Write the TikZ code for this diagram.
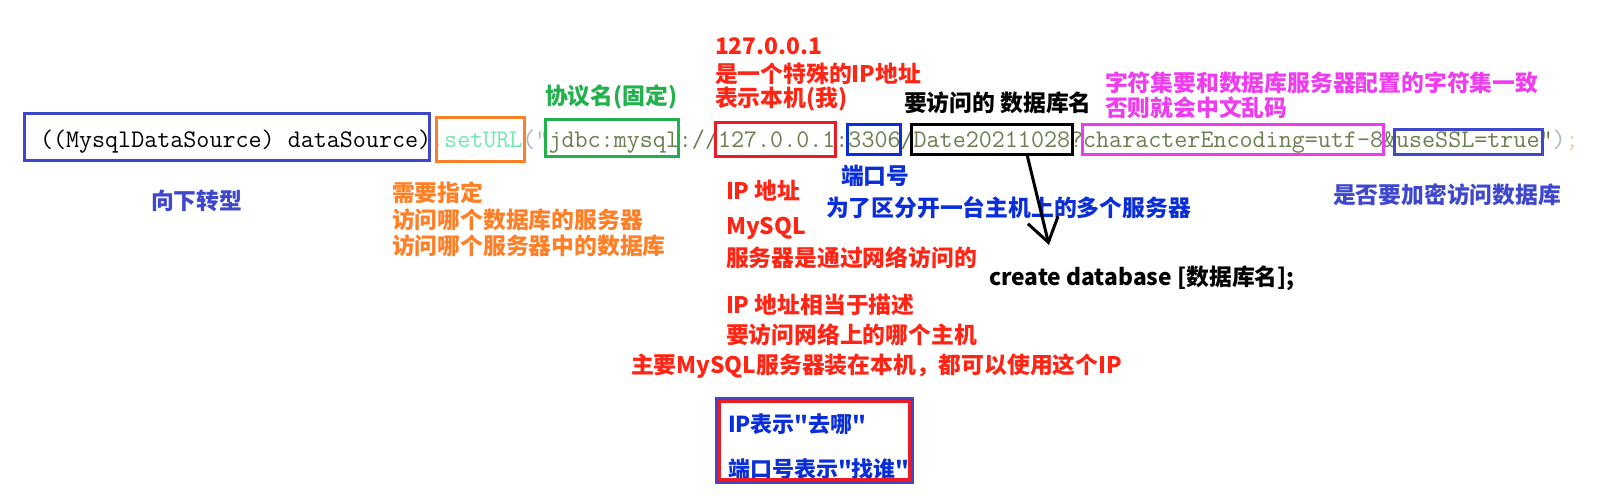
\documentclass[tikz,border=0pt]{standalone}
\usepackage{fontspec}
\usepackage{tikz}
\usetikzlibrary{
  arrows.meta,
  calc,
  fit,
  positioning
}
\newfontfamily\cjkfont{Noto Sans CJK SC}
\newfontfamily\codefont{Latin Modern Mono}
\newcommand\notefont{\cjkfont\bfseries}
\definecolor{codegray}{HTML}{A9B7C6}
\definecolor{codemint}{HTML}{73E6B0}
\definecolor{codeolive}{HTML}{6A7F4E}
\definecolor{codesemi}{HTML}{E6D3A3}
\definecolor{indigo}{HTML}{3F48CC}
\definecolor{paintorange}{HTML}{FF7F27}
\definecolor{paintgreen}{HTML}{22B14C}
\definecolor{textred}{HTML}{FF2515}
\definecolor{framered}{HTML}{ED1C24}
\definecolor{paintblue}{HTML}{0A2ED8}
\definecolor{paintpink}{HTML}{F03CF0}
\tikzset{
  code/.style={
    font=\codefont\fontsize{12.66}{14}\selectfont,
    inner sep=0pt,
    outer sep=0pt
  },
  frame/.style={draw=#1, line width=1.5pt},
  note/.style={
    anchor=north west,
    inner sep=0pt,
    outer sep=0pt,
    align=left,
    font=\notefont\fontsize{11.4}{#1}\selectfont
  },
  note/.default=12.5,
  pointer/.style={-{Straight Barb[length=11.5pt, width=15.5pt]}, line width=1.5pt, draw=black}
}

\begin{document}
\begin{tikzpicture}[x=0.5pt, y=-0.5pt]
  \fill[white] (0,0) rectangle (1608,502);
  \useasboundingbox (0,0) rectangle (1608,502);

  % the code line
  \node[code, anchor=base west] (cast) at (40,148) {((MysqlDataSource) dataSource)};
  \node[code, text=codegray, base right=0pt of cast] (dot) {.};
  \node[code, text=codemint, base right=0pt of dot] (seturl) {setURL};
  \node[code, text=codegray, base right=0pt of seturl] (paren) {(”};
  \node[code, text=codeolive, base right=0pt of paren] (proto) {jdbc:mysql};
  \node[code, text=codeolive, base right=0pt of proto] (slashes) {://};
  \node[code, text=codeolive, base right=0pt of slashes] (host) {127.0.0.1};
  \node[code, text=codeolive, base right=0pt of host] (colon) {:};
  \node[code, text=codeolive, base right=0pt of colon] (port) {3306};
  \node[code, text=codeolive, base right=0pt of port] (slash) {/};
  \node[code, text=codeolive, base right=0pt of slash] (db) {Date20211028};
  \node[code, text=codeolive, base right=0pt of db] (query) {?};
  \node[code, text=codeolive, base right=0pt of query] (charset) {characterEncoding=utf-8};
  \node[code, text=codeolive, base right=0pt of charset] (amp) {\&};
  \node[code, text=codeolive, base right=0pt of amp] (ssl) {useSSL=true\ };
  \node[code, text=codeolive, base right=0pt of ssl] (close) {”};
  \node[code, text=codegray, base right=0pt of close] (closeparen) {)};
  \node[code, text=codesemi, base right=0pt of closeparen] (semi) {;};

  % frames round the parts
  \draw[frame=indigo] ($(cast.base west)+(-16,-34)$) rectangle ($(cast.base east)+(-2,13)$);
  \draw[frame=paintorange] ($(seturl.base west)+(-8,-30)$) rectangle ($(seturl.base east)+(2,14)$);
  \draw[frame=paintgreen] ($(proto.base west)+(-3,-28)$) rectangle ($(proto.base east)+(0,9)$);
  \draw[frame=framered] ($(host.base west)+(-3,-25)$) rectangle ($(host.base east)+(0,9)$);
  \draw[frame=paintblue] ($(port.base west)+(-1,-23)$) rectangle ($(port.base east)+(0,7)$);
  \draw[frame=black] ($(db.base west)+(-2,-23)$) rectangle ($(db.base east)+(2,7)$);
  \draw[frame=paintpink] ($(charset.base west)+(-1,-23)$) rectangle ($(charset.base east)+(0,7)$);
  \draw[frame=indigo] ($(ssl.base west)+(-2,-18)$) rectangle ($(ssl.base east)+(3,7)$);

  % notes
  \node[note, text=indigo] (downcast) at (151,190) {向下转型};
  \node[note=13.25, text=paintorange] (urlnote) at (392,182)
    {需要指定\\访问哪个数据库的服务器\\访问哪个服务器中的数据库};
  \node[note, text=paintgreen] (protonote) at (545,85) {协议名(固定)};
  \node[note, text=textred] (hostip) at (715,38) {127.0.0.1};
  \node[note=12, text=textred] (hostnote) at (715,63)
    {是一个特殊的IP地址\\表示本机(我)};
  \node[note, text=black] (dbnote) at (904,92) {要访问的 数据库名};
  \node[note=12.5, text=paintpink] (charsetnote) at (1105,72)
    {字符集要和数据库服务器配置的字符集一致\\否则就会中文乱码};
  \node[note, text=paintblue] (portname) at (841,165) {端口号};
  \node[note, text=paintblue] (portnote) at (826,196) {为了区分开一台主机上的多个服务器};
  \node[note, text=indigo] (sslnote) at (1333,184) {是否要加密访问数据库};
  \node[note, text=textred] (ipname) at (726,180) {IP 地址};
  \node[note=16, text=textred] (mysqlnote) at (726,217) {MySQL\\服务器是通过网络访问的};
  \node[note=15, text=textred] (ipnote) at (726,294)
    {IP 地址相当于描述\\要访问网络上的哪个主机};
  \node[note, text=textred] (localnote) at (631,354)
    {主要MySQL服务器装在本机，都可以使用这个IP};
  \node[note, text=black, font=\notefont\fontsize{11.4}{14}\selectfont] (createdb) at (989,266)
    {create database [数据库名];};

  % database name points to the create statement
  \coordinate (dbtail) at ($(db.base east)+(-43,7)$);
  \coordinate (dbtip) at ($(createdb.north west)+(60,-21)$);
  \draw[pointer] (dbtail) -- (dbtip);

  % ip and port box
  \node[note=22.5, text=paintblue, text width=86.5pt, font=\notefont\fontsize{11}{22.5}\selectfont]
    (ipport) at (728,414) {IP表示"去哪"\\端口号表示"找谁"};
  \node[frame=framered, fit=(ipport), inner xsep=4.25pt, inner ysep=3pt, yshift=3pt] (redframe) {};
  \node[frame=indigo, fit=(redframe), inner sep=0.75pt] (blueframe) {};
\end{tikzpicture}
\end{document}
